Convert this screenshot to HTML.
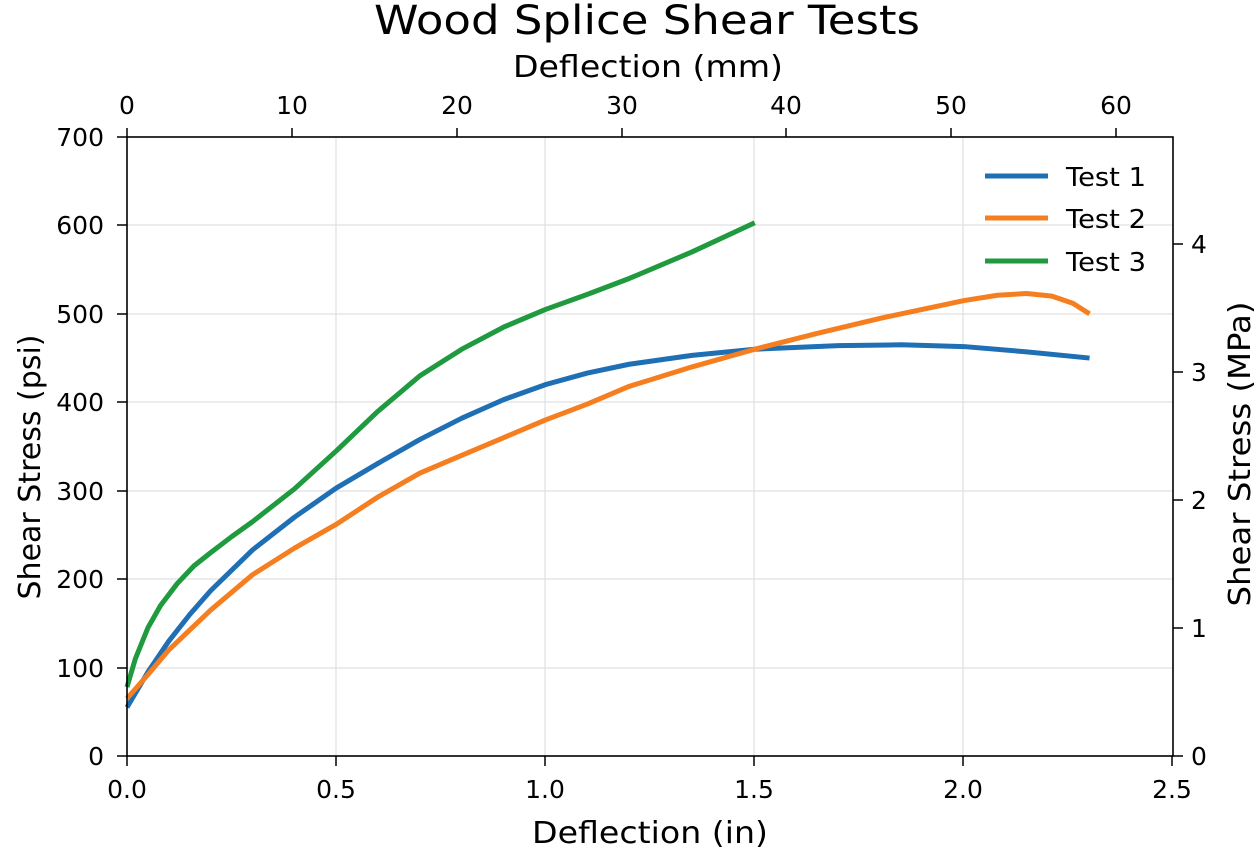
<!DOCTYPE html>
<html><head><meta charset="utf-8"><style>
body{margin:0;background:#fff;}
svg text{font-family:"DejaVu Sans","Liberation Sans",sans-serif;fill:#000;}
</style></head><body>
<svg width="1255" height="851" viewBox="0 0 1255 851" xmlns="http://www.w3.org/2000/svg">
<rect width="1255" height="851" fill="#fff"/>
<g stroke="#e0e0e0" stroke-width="1.2">
<line x1="336" y1="137" x2="336" y2="756"/><line x1="545" y1="137" x2="545" y2="756"/>
<line x1="754" y1="137" x2="754" y2="756"/><line x1="963" y1="137" x2="963" y2="756"/>
<line x1="127" y1="668" x2="1173" y2="668"/><line x1="127" y1="579" x2="1173" y2="579"/>
<line x1="127" y1="491" x2="1173" y2="491"/><line x1="127" y1="402" x2="1173" y2="402"/>
<line x1="127" y1="314" x2="1173" y2="314"/><line x1="127" y1="225" x2="1173" y2="225"/>
</g>
<g transform="translate(127,756) scale(418.5,-0.8843)" fill="none" stroke-width="5" stroke-linejoin="round" stroke-linecap="butt">
<polyline vector-effect="non-scaling-stroke" stroke="#1f6fb4" points="0,55 0.05,95 0.1,130 0.15,160 0.2,187 0.3,233 0.4,270 0.5,303 0.6,331 0.7,358 0.8,382 0.9,403 1.0,420 1.1,433 1.2,443 1.35,453 1.5,460 1.7,464 1.85,465 2.0,463 2.15,457 2.3,450"/>
<polyline vector-effect="non-scaling-stroke" stroke="#f57f20" points="0,65 0.05,92 0.1,120 0.2,165 0.3,205 0.4,235 0.5,262 0.6,293 0.7,320 0.8,340 0.9,360 1.0,380 1.1,398 1.2,418 1.35,440 1.5,460 1.65,478 1.8,495 1.9,505 2.0,515 2.08,521 2.15,523 2.21,520 2.26,512 2.3,500"/>
<polyline vector-effect="non-scaling-stroke" stroke="#1f9a3f" points="0,78 0.02,110 0.05,145 0.08,170 0.12,195 0.16,215 0.2,230 0.25,248 0.3,265 0.4,302 0.5,345 0.6,390 0.7,430 0.8,460 0.9,485 1.0,505 1.1,522 1.2,540 1.35,570 1.5,603"/>
</g>
<rect x="127" y="137" width="1046" height="619" fill="none" stroke="#000" stroke-width="1.6"/>
<g stroke="#000" stroke-width="1.5">
<line x1="127" y1="756" x2="127" y2="766"/><line x1="336" y1="756" x2="336" y2="766"/><line x1="545" y1="756" x2="545" y2="766"/><line x1="754" y1="756" x2="754" y2="766"/><line x1="963" y1="756" x2="963" y2="766"/><line x1="1172" y1="756" x2="1172" y2="766"/>
<line x1="127" y1="137" x2="127" y2="128"/><line x1="292" y1="137" x2="292" y2="128"/><line x1="457" y1="137" x2="457" y2="128"/><line x1="622" y1="137" x2="622" y2="128"/><line x1="786" y1="137" x2="786" y2="128"/><line x1="951" y1="137" x2="951" y2="128"/><line x1="1116" y1="137" x2="1116" y2="128"/>
<line x1="117" y1="756" x2="127" y2="756"/><line x1="117" y1="668" x2="127" y2="668"/><line x1="117" y1="579" x2="127" y2="579"/><line x1="117" y1="491" x2="127" y2="491"/><line x1="117" y1="402" x2="127" y2="402"/><line x1="117" y1="314" x2="127" y2="314"/><line x1="117" y1="225" x2="127" y2="225"/><line x1="117" y1="137" x2="127" y2="137"/>
<line x1="1173" y1="756" x2="1183" y2="756"/><line x1="1173" y1="628" x2="1183" y2="628"/><line x1="1173" y1="500" x2="1183" y2="500"/><line x1="1173" y1="372" x2="1183" y2="372"/><line x1="1173" y1="244" x2="1183" y2="244"/>
</g>
<g font-size="25" text-anchor="middle">
<text x="127" y="798">0.0</text><text x="336" y="798">0.5</text><text x="545" y="798">1.0</text><text x="754" y="798">1.5</text><text x="963" y="798">2.0</text><text x="1172" y="798">2.5</text>
<text x="127" y="114">0</text><text x="292" y="114">10</text><text x="457" y="114">20</text><text x="622" y="114">30</text><text x="786" y="114">40</text><text x="951" y="114">50</text><text x="1116" y="114">60</text>
</g>
<g font-size="25" text-anchor="end">
<text x="104" y="765">0</text><text x="104" y="677">100</text><text x="104" y="588">200</text><text x="104" y="500">300</text><text x="104" y="411">400</text><text x="104" y="323">500</text><text x="104" y="234">600</text><text x="104" y="146">700</text>
</g>
<g font-size="25">
<text x="1191" y="765">0</text><text x="1191" y="637">1</text><text x="1191" y="509">2</text><text x="1191" y="381">3</text><text x="1191" y="253">4</text>
</g>
<text x="532" y="843" font-size="30" textLength="236" lengthAdjust="spacingAndGlyphs">Deflection (in)</text>
<text x="513" y="77" font-size="30" textLength="270" lengthAdjust="spacingAndGlyphs">Deflection (mm)</text>
<text x="374" y="34" font-size="40" textLength="546" lengthAdjust="spacingAndGlyphs">Wood Splice Shear Tests</text>
<text transform="translate(40,467) rotate(-90)" font-size="30" text-anchor="middle" textLength="265" lengthAdjust="spacingAndGlyphs">Shear Stress (psi)</text>
<text transform="translate(1250,454) rotate(-90)" font-size="30" text-anchor="middle" textLength="305" lengthAdjust="spacingAndGlyphs">Shear Stress (MPa)</text>
<g stroke-width="5">
<line x1="985" y1="176" x2="1048" y2="176" stroke="#1f6fb4"/>
<line x1="985" y1="218" x2="1048" y2="218" stroke="#f57f20"/>
<line x1="985" y1="261" x2="1048" y2="261" stroke="#1f9a3f"/>
</g>
<g font-size="26"><text x="1066" y="186" textLength="80" lengthAdjust="spacingAndGlyphs">Test 1</text><text x="1066" y="228" textLength="80" lengthAdjust="spacingAndGlyphs">Test 2</text><text x="1066" y="271" textLength="80" lengthAdjust="spacingAndGlyphs">Test 3</text></g>
</svg>
</body></html>
